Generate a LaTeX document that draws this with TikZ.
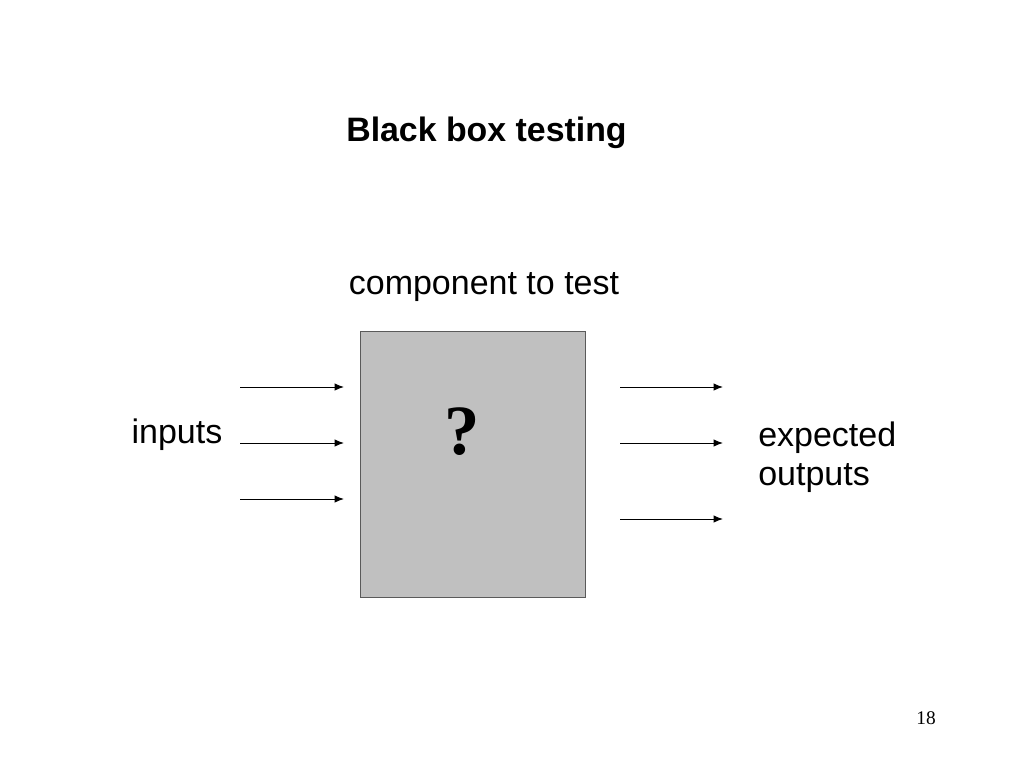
\documentclass[tikz,border=0pt]{standalone}
\usepackage{fontspec}
\setmainfont{Liberation Sans}
\newfontfamily\serifx{Liberation Serif}
\usetikzlibrary{arrows.meta}
\definecolor{boxfill}{RGB}{192,192,192}
\definecolor{boxedge}{RGB}{90,90,90}
\tikzset{
  lbl/.style={inner sep=0pt, font=\fontsize{25.5}{29.25}\selectfont},
  flow/.style={line width=0.75pt, -{Latex[length=7pt,width=5.5pt]}},
}
\begin{document}
\begin{tikzpicture}[x=0.75pt,y=-0.75pt]
\useasboundingbox[fill=white] (0,0) rectangle (1024,768);
\node[inner sep=0pt, font=\fontsize{25.4}{30}\selectfont\bfseries, anchor=base] (title) at (486.5,141) {Black box testing};
\node[lbl, anchor=base] (comp) at (484,294) {component to test};
\node[draw=boxedge, fill=boxfill, line width=0.75pt, minimum width=168.75pt, minimum height=199.5pt, inner sep=0pt] (box) at (473,464) {};
\node[inner sep=0pt, font=\fontsize{53}{60}\selectfont\serifx\bfseries, anchor=base] (q) at (462,454) {?};
\node[lbl, anchor=base] (inputs) at (177,443) {inputs};
\node[lbl, anchor=base west, align=left] (outs) at (758,485) {expected\\outputs};
\coordinate (i1s) at (240,387); \coordinate (i1e) at (344,387);
\coordinate (i2s) at (240,443); \coordinate (i2e) at (344,443);
\coordinate (i3s) at (240,499); \coordinate (i3e) at (344,499);
\coordinate (o1s) at (620,387); \coordinate (o1e) at (723,387);
\coordinate (o2s) at (620,443); \coordinate (o2e) at (723,443);
\coordinate (o3s) at (620,519); \coordinate (o3e) at (723,519);
\draw[flow] (i1s) -- (i1e);
\draw[flow] (i2s) -- (i2e);
\draw[flow] (i3s) -- (i3e);
\draw[flow] (o1s) -- (o1e);
\draw[flow] (o2s) -- (o2e);
\draw[flow] (o3s) -- (o3e);
\node[inner sep=0pt, font=\fontsize{14.5}{17}\selectfont\serifx, anchor=base] (page) at (926,724) {18};
\end{tikzpicture}
\end{document}
